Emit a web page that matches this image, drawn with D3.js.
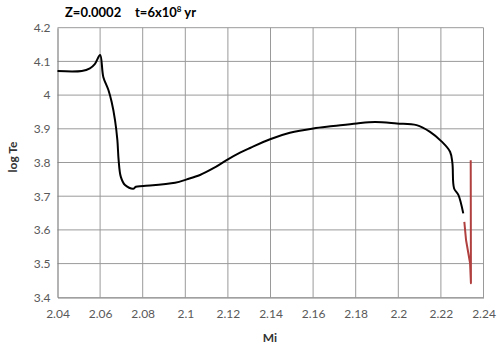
<!DOCTYPE html>
<html>
<head>
<meta charset="utf-8">
<script src="https://cdn.jsdelivr.net/npm/d3@7"></script>
<style>
  body { margin: 0; background: #fff; }
  svg { display: block; }
  text { font-family: Lato, "Open Sans", sans-serif; }
</style>
</head>
<body>
<div id="chart"></div>
<script>
// black track (Mi, log Te)
var blackMi = [2.04, 2.0514, 2.0552, 2.0575, 2.06, 2.0615, 2.0639, 2.0654, 2.067, 2.0681, 2.0687, 2.0697,
    2.0717, 2.0755, 2.0768, 2.0803, 2.0952, 2.1007, 2.1069, 2.1132, 2.1194, 2.1257, 2.1304, 2.1398,
    2.1491, 2.1601, 2.1695, 2.1805, 2.1891, 2.1993, 2.2086, 2.2149, 2.2204, 2.2243, 2.2254, 2.2262,
    2.2282, 2.2305];
var blackTe = [4.0715, 4.0718, 4.0795, 4.092, 4.119, 4.054, 4.015, 3.98, 3.926, 3.867, 3.807, 3.758,
    3.733, 3.722, 3.728, 3.730, 3.740, 3.750, 3.763, 3.783, 3.807, 3.829, 3.843, 3.869,
    3.888, 3.901, 3.908, 3.916, 3.920, 3.916, 3.911, 3.891, 3.862, 3.832, 3.798, 3.723,
    3.704, 3.649];
// red track
var redMi = [2.231, 2.2318, 2.2337, 2.2341, 2.2340];
var redTe = [3.624, 3.570, 3.501, 3.442, 3.807];

var xTicks = [2.04, 2.06, 2.08, 2.1, 2.12, 2.14, 2.16, 2.18, 2.2, 2.22, 2.24];
var yTicks = [3.4, 3.5, 3.6, 3.7, 3.8, 3.9, 4, 4.1, 4.2];

var margin = { top: 27.7, right: 16.5, bottom: 51.7, left: 57.5 },
    width = 500 - margin.left - margin.right,
    height = 349 - margin.top - margin.bottom;

var svg = d3.select("#chart").append("svg")
    .attr("width", 500)
    .attr("height", 349);

var g = svg.append("g")
    .attr("transform", "translate(" + margin.left + "," + margin.top + ")");

var x = d3.scaleLinear().domain([2.04, 2.24]).range([0, width]);
var y = d3.scaleLinear().domain([3.4, 4.2]).range([height, 0]);

// grid
g.append("g")
    .selectAll("line")
    .data(xTicks.slice(1))
    .enter().append("line")
    .attr("x1", function (d) { return x(d); })
    .attr("x2", function (d) { return x(d); })
    .attr("y1", 0)
    .attr("y2", height)
    .attr("stroke", "#9a9a9a")
    .attr("stroke-width", 1);

g.append("g")
    .selectAll("line")
    .data(yTicks.slice(1))
    .enter().append("line")
    .attr("x1", 0)
    .attr("x2", width)
    .attr("y1", function (d) { return y(d); })
    .attr("y2", function (d) { return y(d); })
    .attr("stroke", "#9a9a9a")
    .attr("stroke-width", 1);

// axes
var xAxis = g.append("g")
    .attr("transform", "translate(0," + height + ")")
    .call(d3.axisBottom(x).tickValues(xTicks).tickSize(0).tickPadding(12)
        .tickFormat(function (d) { return String(+d.toFixed(2)); }));
var yAxis = g.append("g")
    .call(d3.axisLeft(y).tickValues(yTicks).tickSize(0).tickPadding(7)
        .tickFormat(function (d) { return String(+d.toFixed(1)); }));

[xAxis, yAxis].forEach(function (a) {
    a.select(".domain").attr("stroke", "#808080").attr("stroke-width", 1.2);
    a.selectAll("text").attr("fill", "#595959").style("font-size", "12px");
});

var line = d3.line()
    .x(function (d) { return x(d[0]); })
    .y(function (d) { return y(d[1]); })
    .curve(d3.curveCatmullRom.alpha(0.5));

var lineLin = d3.line()
    .x(function (d) { return x(d[0]); })
    .y(function (d) { return y(d[1]); });

g.append("path")
    .datum(blackMi.map(function (m, i) { return [m, blackTe[i]]; }))
    .attr("d", line)
    .attr("fill", "none")
    .attr("stroke", "#000")
    .attr("stroke-width", 2)
    .attr("stroke-linejoin", "round");

g.append("path")
    .datum(redMi.map(function (m, i) { return [m, redTe[i]]; }))
    .attr("d", lineLin)
    .attr("fill", "none")
    .attr("stroke", "#b0403f")
    .attr("stroke-width", 2)
    .attr("stroke-linejoin", "round");

// title
var title = svg.append("text")
    .attr("y", 17)
    .style("font-size", "13px")
    .style("font-weight", "bold")
    .attr("fill", "#000");
title.append("tspan").attr("x", 65).text("Z=0.0002");
title.append("tspan").attr("x", 135).text("t=6x10");
title.append("tspan").attr("dy", -5).style("font-size", "8px").text("8");
title.append("tspan").attr("dy", 5).text(" yr");

// axis titles
svg.append("text")
    .attr("x", 270)
    .attr("y", 342)
    .attr("text-anchor", "middle")
    .style("font-size", "12px")
    .style("font-weight", "bold")
    .attr("fill", "#333")
    .text("Mi");

svg.append("text")
    .attr("transform", "translate(17,157) rotate(-90)")
    .attr("text-anchor", "middle")
    .style("font-size", "12px")
    .style("font-weight", "bold")
    .attr("fill", "#333")
    .text("log Te");
</script>
</body>
</html>
